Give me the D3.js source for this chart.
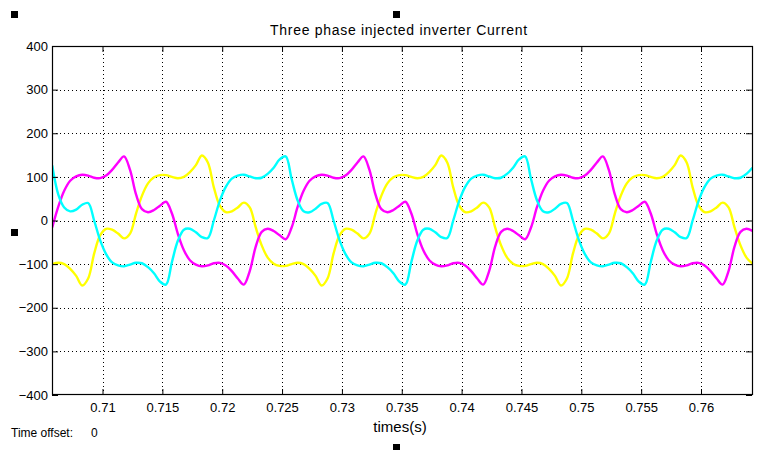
<!DOCTYPE html>
<html>
<head>
<meta charset="utf-8">
<script src="https://cdn.jsdelivr.net/npm/d3@7"></script>
<style>
  html, body { margin: 0; padding: 0; background: #ffffff; }
  svg { display: block; }
  text { font-family: "Liberation Sans", Arial, sans-serif; fill: #000; }
</style>
</head>
<body>
<svg id="chart" width="773" height="450"></svg>
<script>
// ---- data ----
const times = [
  0.7058, 0.7063, 0.7068, 0.7073, 0.7078, 0.7083, 0.7088, 0.7093, 0.7098, 0.7103,
  0.7108, 0.7113, 0.7118, 0.7123, 0.7128, 0.7133, 0.7138, 0.7143, 0.7148, 0.7153,
  0.7158, 0.7163, 0.7168, 0.7173, 0.7178, 0.7183, 0.7188, 0.7193, 0.7198, 0.7203,
  0.7208, 0.7213, 0.7218, 0.7223, 0.7228, 0.7233, 0.7238, 0.7243, 0.7248, 0.7253,
  0.7258, 0.7263, 0.7268, 0.7273, 0.7278, 0.7283, 0.7288, 0.7293, 0.7298, 0.7303,
  0.7308, 0.7313, 0.7318, 0.7323, 0.7328, 0.7333, 0.7338, 0.7343, 0.7348, 0.7353,
  0.7358, 0.7363, 0.7368, 0.7373, 0.7378, 0.7383, 0.7388, 0.7393, 0.7398, 0.7403,
  0.7408, 0.7413, 0.7418, 0.7423, 0.7428, 0.7433, 0.7438, 0.7443, 0.7448, 0.7453,
  0.7458, 0.7463, 0.7468, 0.7473, 0.7478, 0.7483, 0.7488, 0.7493, 0.7498, 0.7503,
  0.7508, 0.7513, 0.7518, 0.7523, 0.7528, 0.7533, 0.7538, 0.7543, 0.7548, 0.7553,
  0.7558, 0.7563, 0.7568, 0.7573, 0.7578, 0.7583, 0.7588, 0.7593, 0.7598, 0.7603,
  0.7608, 0.7613, 0.7618, 0.7623, 0.7628, 0.7633, 0.7638, 0.7643
];

const phaseYellow = [
  -100, -97, -100, -111, -127, -149, -133, -76, -34, -19,
  -21, -30, -41, -30, 16, 57, 85, 99, 104, 104,
  100, 97, 100, 111, 127, 149, 133, 76, 34, 19,
  21, 30, 41, 30, -16, -57, -85, -99, -104, -104,
  -100, -97, -100, -111, -127, -149, -133, -76, -34, -19,
  -21, -30, -41, -30, 16, 57, 85, 99, 104, 104,
  100, 97, 100, 111, 127, 149, 133, 76, 34, 19,
  21, 30, 41, 30, -16, -57, -85, -99, -104, -104,
  -100, -97, -100, -111, -127, -149, -133, -76, -34, -19,
  -21, -30, -41, -30, 16, 57, 85, 99, 104, 104,
  100, 97, 100, 111, 127, 149, 133, 76, 34, 19,
  21, 30, 41, 30, -16, -57, -85, -99
];

const phaseMagenta = [
  -16, 31, 68, 91, 101, 105, 103, 98, 97, 103,
  116, 133, 147, 116, 60, 26, 19, 24, 34, 43,
  16, -31, -68, -91, -101, -105, -103, -98, -97, -103,
  -116, -133, -147, -116, -60, -26, -19, -24, -34, -43,
  -16, 31, 68, 91, 101, 105, 103, 98, 97, 103,
  116, 133, 147, 116, 60, 26, 19, 24, 34, 43,
  16, -31, -68, -91, -101, -105, -103, -98, -97, -103,
  -116, -133, -147, -116, -60, -26, -19, -24, -34, -43,
  -16, 31, 68, 91, 101, 105, 103, 98, 97, 103,
  116, 133, 147, 116, 60, 26, 19, 24, 34, 43,
  16, -31, -68, -91, -101, -105, -103, -98, -97, -103,
  -116, -133, -147, -116, -60, -26, -19, -24
];

const phaseCyan = [
  126, 60, 30, 21, 25, 36, 40, 0, -45, -77,
  -96, -103, -105, -101, -97, -98, -107, -121, -140, -147,
  -95, -46, -21, -19, -27, -38, -40, 0, 45, 77,
  96, 103, 105, 101, 97, 98, 107, 121, 140, 147,
  95, 46, 21, 19, 27, 38, 40, 0, -45, -77,
  -96, -103, -105, -101, -97, -98, -107, -121, -140, -147,
  -95, -46, -21, -19, -27, -38, -40, 0, 45, 77,
  96, 103, 105, 101, 97, 98, 107, 121, 140, 147,
  95, 46, 21, 19, 27, 38, 40, 0, -45, -77,
  -96, -103, -105, -101, -97, -98, -107, -121, -140, -147,
  -95, -46, -21, -19, -27, -38, -40, 0, 45, 77,
  96, 103, 105, 101, 97, 98, 107, 121
];

const yTickValues = [-400, -300, -200, -100, 0, 100, 200, 300, 400];
const xTickValues = [0.71, 0.715, 0.72, 0.725, 0.73, 0.735, 0.74, 0.745, 0.75, 0.755, 0.76];
const xTickLabels = ["0.71", "0.715", "0.72", "0.725", "0.73", "0.735", "0.74", "0.745", "0.75", "0.755", "0.76"];

const titleText = "Three phase injected inverter Current";
const xLabelText = "times(s)";
const offsetText = "Time offset:";
const offsetValue = "0";

// ---- layout ----
const svg = d3.select("#chart");
const pLeft = 52, pRight = 752, pTop = 46, pBottom = 395;
const W = pRight - pLeft, H = pBottom - pTop;

const x = d3.scaleLinear().domain([0.70578, 0.76426]).range([pLeft, pRight]);
const y = d3.scaleLinear().domain([-400, 400]).range([pBottom, pTop]);

svg.append("rect").attr("x", pLeft).attr("y", pTop).attr("width", W).attr("height", H).attr("fill", "#ffffff");

// grid lines (dotted)
const grid = svg.append("g").attr("class", "grid");
grid.selectAll("line.v").data(xTickValues).enter().append("line")
  .attr("x1", d => Math.round(x(d)) + 0.5).attr("x2", d => Math.round(x(d)) + 0.5)
  .attr("y1", pTop).attr("y2", pBottom)
  .attr("stroke", "#000").attr("stroke-width", 1).attr("stroke-dasharray", "1,3");
grid.selectAll("line.h").data(yTickValues.filter(v => v > -400 && v < 400)).enter().append("line")
  .attr("y1", d => Math.round(y(d)) + 0.5).attr("y2", d => Math.round(y(d)) + 0.5)
  .attr("x1", pLeft).attr("x2", pRight)
  .attr("stroke", "#000").attr("stroke-width", 1).attr("stroke-dasharray", "1,3");

svg.append("clipPath").attr("id", "plotclip").append("rect")
  .attr("x", pLeft).attr("y", pTop).attr("width", W).attr("height", H);

const line = d3.line()
  .x((d, i) => x(times[i]))
  .y(d => y(d))
  .curve(d3.curveCatmullRom.alpha(0.5));

const traces = svg.append("g").attr("clip-path", "url(#plotclip)");
[[phaseYellow, "#ffff00"], [phaseMagenta, "#ff00ff"], [phaseCyan, "#00ffff"]].forEach(([vals, col]) => {
  traces.append("path").datum(vals)
    .attr("d", line)
    .attr("fill", "none")
    .attr("stroke", col)
    .attr("stroke-width", 2.4)
    .attr("stroke-linejoin", "round");
});

// axes with inward ticks
const tickLen = 6;
const axB = svg.append("g").attr("transform", `translate(0,${pBottom})`)
  .call(d3.axisBottom(x).tickValues(xTickValues).tickFormat((d, i) => xTickLabels[i]).tickSize(-tickLen).tickPadding(8));
const axT = svg.append("g").attr("transform", `translate(0,${pTop})`)
  .call(d3.axisTop(x).tickValues(xTickValues).tickFormat("").tickSize(-tickLen));
const axL = svg.append("g").attr("transform", `translate(${pLeft},0)`)
  .call(d3.axisLeft(y).tickValues(yTickValues).tickFormat(d3.format("d")).tickSize(-tickLen).tickPadding(4));
const axR = svg.append("g").attr("transform", `translate(${pRight},0)`)
  .call(d3.axisRight(y).tickValues(yTickValues).tickFormat("").tickSize(-tickLen));

[axB, axT, axL, axR].forEach(g => {
  g.select(".domain").remove();
  g.selectAll(".tick line").attr("stroke", "#000").attr("stroke-width", 1);
  g.selectAll("text").attr("font-size", 13).attr("font-family", "Liberation Sans, Arial, sans-serif").attr("fill", "#000");
});

// frame
svg.append("rect").attr("x", pLeft + 0.5).attr("y", pTop + 0.5).attr("width", W).attr("height", H - 1)
  .attr("fill", "none").attr("stroke", "#000").attr("stroke-width", 1.2);

// title and labels
svg.append("text").attr("x", 399).attr("y", 35).attr("text-anchor", "middle")
  .attr("font-size", 14).attr("letter-spacing", 0.7).text(titleText);
svg.append("text").attr("x", 400).attr("y", 432).attr("text-anchor", "middle")
  .attr("font-size", 15).text(xLabelText);
svg.append("text").attr("x", 11).attr("y", 437).attr("font-size", 12).text(offsetText);
svg.append("text").attr("x", 91).attr("y", 437).attr("font-size", 12).text(offsetValue);

// figure handles (small black squares)
const handles = [[11, 11], [393, 11], [11, 229], [393, 444]];
svg.selectAll("rect.handle").data(handles).enter().append("rect")
  .attr("class", "handle")
  .attr("x", d => d[0]).attr("y", d => d[1]).attr("width", 7).attr("height", 7).attr("fill", "#000");
</script>
</body>
</html>
